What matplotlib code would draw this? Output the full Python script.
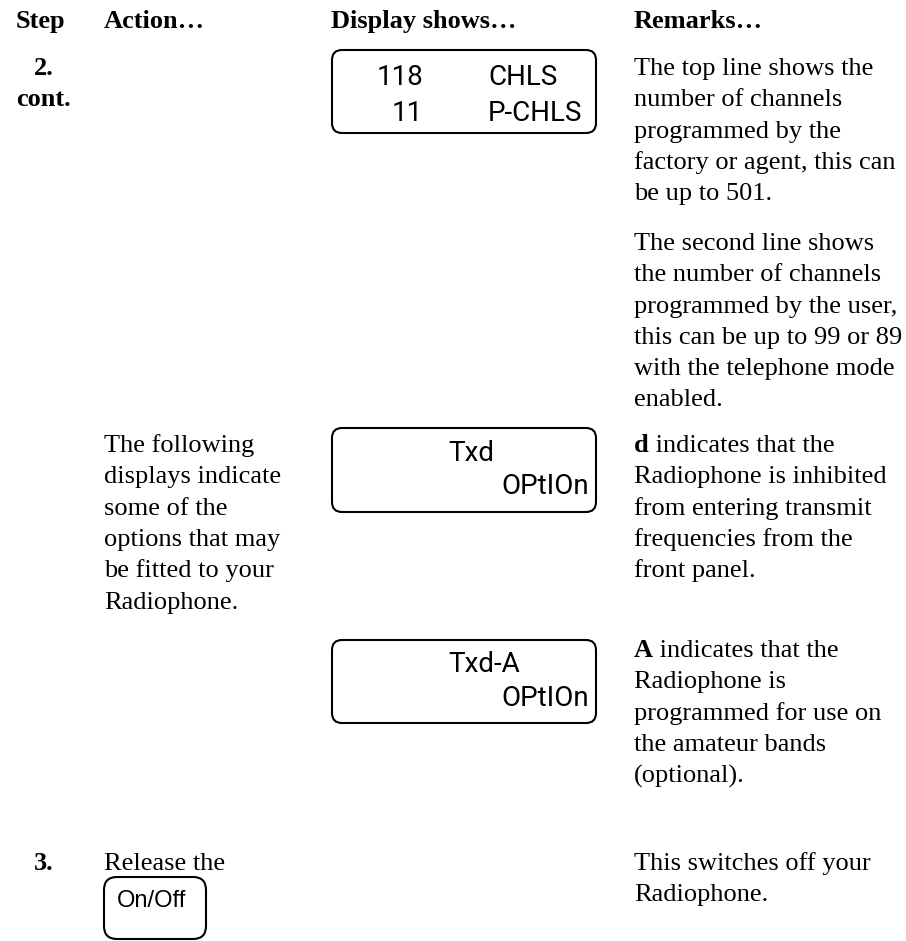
import matplotlib.pyplot as plt
from matplotlib.patches import FancyBboxPatch

# column headers and their x positions
headers = ["Step", "Action\u2026", "Display shows\u2026", "Remarks\u2026"]
header_x = [16, 104, 331, 634]

# step numbers
step_labels = ["2.", "cont.", "3."]
step_y = [67, 98, 862]

# action column text
action_lines = ["The following", "displays indicate", "some of the",
                "options that may", "be fitted to your", "Radiophone."]
release_text = "Release the"
button_label = "On/Off"

# remarks paragraphs (first word of some is bold)
remark_1 = ["The top line shows the", "number of channels", "programmed by the",
            "factory or agent, this can", "be up to 501."]
remark_2 = ["The second line shows", "the number of channels",
            "programmed by the user,", "this can be up to 99 or 89",
            "with the telephone mode", "enabled."]
remark_3 = [("d", " indicates that the"), ("", "Radiophone is inhibited"),
            ("", "from entering transmit"), ("", "frequencies from the"),
            ("", "front panel.")]
remark_4 = [("A", " indicates that the"), ("", "Radiophone is"),
            ("", "programmed for use on"), ("", "the amateur bands"),
            ("", "(optional).")]
remark_5 = ["This switches off your", "Radiophone."]

# LCD display contents
lcd_1 = ("118", "CHLS", "11", "P-CHLS")
lcd_2 = "Txd"
lcd_3 = "Txd-A"
lcd_opt = "OPtIOn"

serif = "Liberation Serif"
fs = 19
lh = 31.3
off = 8  # baseline offset from line centre

fig = plt.figure(figsize=(9.06, 9.41), dpi=100)
ax = fig.add_axes([0, 0, 1, 1])
ax.set_xlim(0, 906)
ax.set_ylim(941, 0)
ax.axis("off")


def para(lines, x, y0, **kw):
    for i, ln in enumerate(lines):
        ax.text(x, y0 + i * lh + off, ln, family=serif, fontsize=fs,
                va="baseline", ha="left", **kw)


def bold_para(lines, x, y0):
    for i, (b, rest) in enumerate(lines):
        y = y0 + i * lh + off
        if b:
            t = ax.text(x, y, b, family=serif, fontsize=fs, weight="bold",
                        va="baseline", ha="left")
            fig.canvas.draw()
            bb = t.get_window_extent()
            x2 = ax.transData.inverted().transform((bb.x1, bb.y0))[0]
            ax.text(x2, y, rest, family=serif, fontsize=fs, va="baseline", ha="left")
        else:
            ax.text(x, y, rest, family=serif, fontsize=fs, va="baseline", ha="left")


def lcd_box(y0, y1):
    ax.add_patch(FancyBboxPatch((332, y0), 264, y1 - y0,
                                boxstyle="round,pad=0,rounding_size=10",
                                fill=False, ec="black", lw=1.5))


def lcd(x, y, s, ha):
    # narrow sans lettering in place of the segment display
    ax.text(x, y, s, family=["Roboto", "DejaVu Sans"], fontsize=20,
            ha=ha, va="center", color="black")


# headers
for h, x in zip(headers, header_x):
    ax.text(x, 20 + off, h, family=serif, fontsize=fs, weight="bold",
            va="baseline", ha="left")

# step numbers
ax.text(44, step_y[0] + off, step_labels[0], family=serif, fontsize=fs,
        weight="bold", ha="center", va="baseline")
ax.text(16, step_y[1] + off, step_labels[1], family=serif, fontsize=fs,
        weight="bold", ha="left", va="baseline")
ax.text(44, step_y[2] + off, step_labels[2], family=serif, fontsize=fs,
        weight="bold", ha="center", va="baseline")

# remarks
para(remark_1, 634, 67)
para(remark_2, 634, 242)
bold_para(remark_3, 634, 444)
bold_para(remark_4, 634, 649)
para(remark_5, 634, 862)

# action column
para(action_lines, 104, 444)
para([release_text], 104, 862)
ax.add_patch(FancyBboxPatch((104, 877), 102, 62,
                            boxstyle="round,pad=0,rounding_size=13",
                            fill=False, ec="black", lw=1.5))
ax.text(152, 907, button_label, family="Liberation Sans", fontsize=17,
        ha="center", va="baseline")

# LCD displays
lcd_box(50, 133)
lcd(423, 77, lcd_1[0], "right")
lcd(488, 77, lcd_1[1], "left")
lcd(423, 113, lcd_1[2], "right")
lcd(488, 113, lcd_1[3], "left")

lcd_box(428, 512)
lcd(448, 453, lcd_2, "left")
lcd(589, 486, lcd_opt, "right")

lcd_box(640, 723)
lcd(448, 665, lcd_3, "left")
lcd(589, 698, lcd_opt, "right")

fig.savefig("out.png", dpi=100)
